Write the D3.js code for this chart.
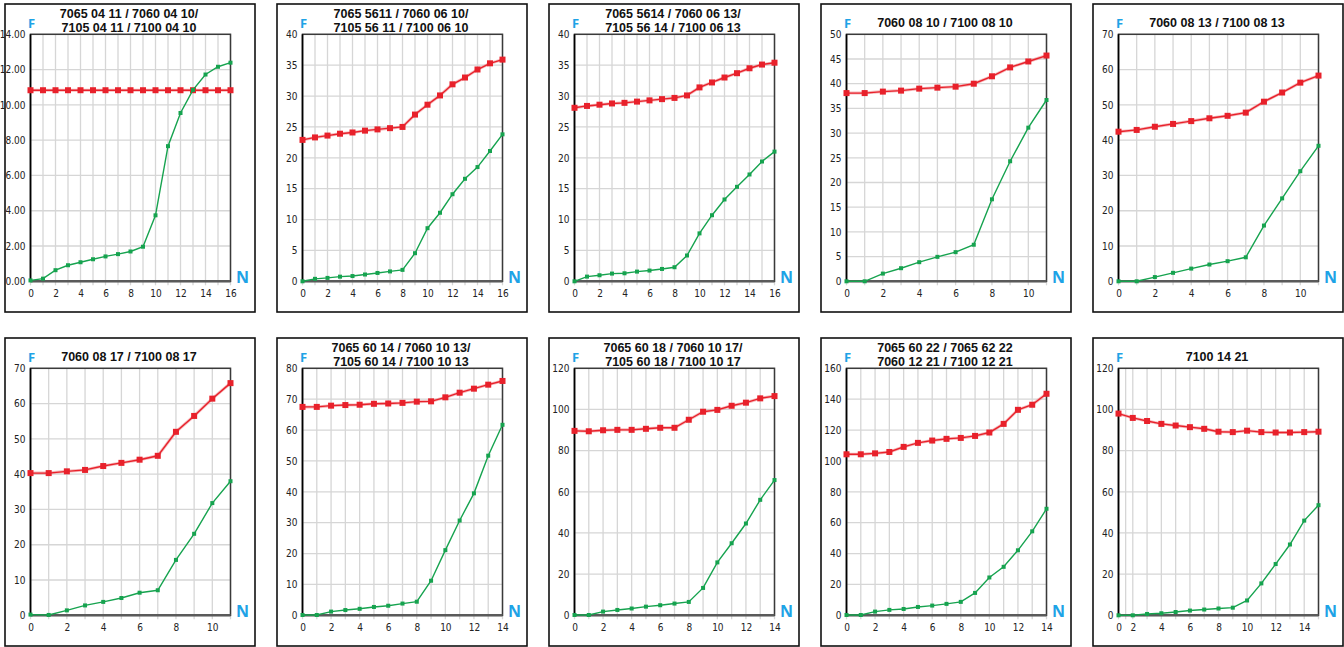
<!DOCTYPE html>
<html><head><meta charset="utf-8">
<script src="https://cdn.jsdelivr.net/npm/d3@7"></script>
<style>
body{margin:0;background:#fff}
svg{display:block}
.tick text{font-family:"Liberation Sans Narrow","DejaVu Sans Condensed","Roboto",sans-serif;font-size:10px;fill:#222}
</style></head><body>
<svg id="c" width="1344" height="647"></svg>
<script>
// ---------- data ----------
const titles = [
  ["7065 04 11 / 7060 04 10/", "7105 04 11 / 7100 04 10"],
  ["7065 5611 / 7060 06 10/", "7105 56 11 / 7100 06 10"],
  ["7065 5614 / 7060 06 13/", "7105 56 14 / 7100 06 13"],
  ["7060 08 10 / 7100 08 10"],
  ["7060 08 13 / 7100 08 13"],
  ["7060 08 17 / 7100 08 17"],
  ["7065 60 14 / 7060 10 13/", "7105 60 14 / 7100 10 13"],
  ["7065 60 18 / 7060 10 17/", "7105 60 18 / 7100 10 17"],
  ["7065 60 22 / 7065 62 22", "7060 12 21 / 7100 12 21"],
  ["7100 14 21"]
];
const nValues = [
  [0,1,2,3,4,5,6,7,8,9,10,11,12,13,14,15,16],
  [0,1,2,3,4,5,6,7,8,9,10,11,12,13,14,15,16],
  [0,1,2,3,4,5,6,7,8,9,10,11,12,13,14,15,16],
  [0,1,2,3,4,5,6,7,8,9,10,11],
  [0,1,2,3,4,5,6,7,8,9,10,11],
  [0,1,2,3,4,5,6,7,8,9,10,11],
  [0,1,2,3,4,5,6,7,8,9,10,11,12,13,14],
  [0,1,2,3,4,5,6,7,8,9,10,11,12,13,14],
  [0,1,2,3,4,5,6,7,8,9,10,11,12,13,14],
  [0,2,3,4,5,6,7,8,9,10,11,12,13,14,15]
];
const redSeries = [
  [10.83,10.83,10.83,10.83,10.83,10.83,10.83,10.83,10.83,10.83,10.83,10.83,10.83,10.83,10.83,10.83,10.83],
  [22.9,23.3,23.6,23.9,24.1,24.4,24.6,24.8,25.0,27.0,28.6,30.1,31.9,33.0,34.3,35.3,35.9],
  [28.1,28.4,28.6,28.8,28.9,29.1,29.3,29.5,29.7,30.1,31.4,32.2,33.0,33.7,34.5,35.1,35.4],
  [38.1,38.1,38.4,38.6,39.0,39.2,39.4,40.0,41.5,43.3,44.5,45.7],
  [42.4,42.9,43.8,44.6,45.4,46.2,46.9,47.8,50.9,53.5,56.3,58.3],
  [40.3,40.3,40.8,41.2,42.3,43.2,44.1,45.2,52.0,56.5,61.4,65.8],
  [67.5,67.5,67.9,68.1,68.2,68.5,68.6,68.8,69.2,69.3,70.6,72.1,73.4,74.7,75.9],
  [89.6,89.4,89.9,90.1,90.1,90.6,91.1,91.1,95.0,98.9,99.8,101.8,103.3,105.4,106.5],
  [104.3,104.3,104.9,105.8,109.1,111.7,113.2,114.3,114.9,116.2,118.4,124.0,133.1,136.4,143.5],
  [98.0,95.9,94.4,93.0,92.2,91.4,90.6,89.2,89.0,89.7,89.0,88.8,88.8,89.0,89.2]
];
const greenSeries = [
  [0.05,0.15,0.63,0.91,1.08,1.25,1.41,1.54,1.69,1.96,3.74,7.66,9.54,10.85,11.72,12.16,12.39],
  [0.0,0.4,0.55,0.75,0.85,1.1,1.35,1.6,1.85,4.55,8.6,11.1,14.1,16.6,18.5,21.1,23.8],
  [0.0,0.76,0.98,1.25,1.3,1.57,1.74,2.0,2.28,4.18,7.76,10.7,13.25,15.3,17.3,19.4,21.0],
  [0.0,0.0,1.56,2.65,3.87,4.95,5.9,7.4,16.6,24.3,31.1,36.7],
  [0.0,0.0,1.2,2.4,3.6,4.75,5.7,6.8,15.8,23.5,31.2,38.4],
  [0.2,0.1,1.4,2.8,3.8,4.9,6.4,7.1,15.7,23.1,31.8,38.0],
  [0.1,0.1,1.2,1.7,2.1,2.7,3.1,3.8,4.4,11.2,21.1,30.7,39.5,51.7,61.7],
  [0.15,0.15,1.8,2.6,3.3,4.2,4.9,5.7,6.5,13.3,25.7,35.0,44.6,56.1,65.7],
  [0.2,0.2,2.4,3.5,4.1,5.4,6.3,7.4,8.7,14.5,24.5,31.4,42.1,54.4,69.0],
  [0.0,0.0,0.65,1.0,1.6,2.3,2.8,3.3,3.7,7.2,15.5,24.9,34.4,46.0,53.5]
];
const yMax  = [14,40,40,50,70,70,80,120,160,120];
const yStep = [2,5,5,5,10,10,10,20,20,20];
const yDecimals = [2,0,0,0,0,0,0,0,0,0];
const axisLabelY = "F";
const axisLabelX = "N";

// ---------- layout ----------
const frameX = [5,277,549,821,1093];
const frameY = [4,338];
const frameW = 250, frameH = 308;
const plotOX = 25.5, plotOY = 30.3, plotW = 200, plotH = 247;
const RED = "#e8212b", GREEN = "#16a34f", BLUE = "#1ea3e6";

const svg = d3.select("#c");

titles.forEach((title, i) => {
  const fx = frameX[i % 5], fy = frameY[Math.floor(i / 5)];
  const g = svg.append("g").attr("transform", `translate(${fx},${fy})`);
  g.append("rect").attr("x",0).attr("y",0).attr("width",frameW).attr("height",frameH)
    .attr("fill","#fff").attr("stroke","#111").attr("stroke-width",1.6);

  // title
  const baselines = title.length === 2 ? [13.8, 28.2] : [22.5];
  title.forEach((line, k) => g.append("text").attr("text-anchor","middle")
    .attr("font-family","'Liberation Sans',Arial,sans-serif").attr("font-weight","700")
    .attr("font-size","12.5px").attr("fill","#111")
    .attr("x", frameW/2 - 1).attr("y", baselines[k]).text(line));

  const p = g.append("g").attr("transform", `translate(${plotOX},${plotOY})`);
  const ns = nValues[i];
  const nMax = ns[ns.length-1];
  const xDom = ns[0] === 0 && ns[1] === 2 ? [0, 2, nMax] : [0, nMax];
  const xRange = xDom.length === 3 ? [0, plotW/(ns.length-1), plotW] : [0, plotW];
  const x = d3.scaleLinear().domain(xDom).range(xRange);
  const y = d3.scaleLinear().domain([0, yMax[i]]).range([plotH, 0]);
  const yTicks = d3.range(0, yMax[i] + yStep[i]/2, yStep[i]);
  const xTicks = d3.range(0, nMax + 1);

  // grid
  p.append("g").selectAll("line").data(yTicks).join("line")
    .attr("x1",0).attr("x2",plotW).attr("y1",d=>y(d)).attr("y2",d=>y(d))
    .attr("stroke","#d6d6d6").attr("stroke-width",1.3);
  p.append("g").selectAll("line").data(xTicks).join("line")
    .attr("x1",d=>x(d)).attr("x2",d=>x(d)).attr("y1",0).attr("y2",plotH+4)
    .attr("stroke","#d6d6d6").attr("stroke-width",1.3);

  // axes labels
  p.append("g").attr("transform",`translate(0,${plotH})`)
    .call(d3.axisBottom(x).tickValues(xTicks).tickSize(0).tickPadding(9)
      .tickFormat(d => d % 2 === 0 ? d : ""))
    .call(a => a.select(".domain").remove());
  p.append("g")
    .call(d3.axisLeft(y).tickValues(yTicks).tickSize(0).tickPadding(5)
      .tickFormat(d => d3.format(`.${yDecimals[i]}f`)(d)))
    .call(a => a.select(".domain").remove());

  // plot frame
  p.append("rect").attr("width",plotW).attr("height",plotH).attr("fill","none")
    .attr("stroke","#3a3a3a").attr("stroke-width",1.5);
  p.append("line").attr("x1",0).attr("x2",0).attr("y1",0).attr("y2",plotH)
    .attr("stroke","#000").attr("stroke-width",1.6);
  p.append("line").attr("x1",0).attr("x2",plotW).attr("y1",plotH).attr("y2",plotH)
    .attr("stroke","#5a5a5a").attr("stroke-width",2.4);

  // series
  const line = d3.line().x((d,j)=>x(ns[j])).y(d=>y(d));
  p.append("path").datum(redSeries[i]).attr("d",line).attr("fill","none")
    .attr("stroke","#f08a8e").attr("stroke-width",3).attr("opacity",0.6);
  p.append("path").datum(redSeries[i]).attr("d",line).attr("fill","none")
    .attr("stroke",RED).attr("stroke-width",1.4);
  p.append("g").selectAll("rect").data(redSeries[i]).join("rect")
    .attr("x",(d,j)=>x(ns[j])-3).attr("y",d=>y(d)-3).attr("width",6).attr("height",6)
    .attr("fill",RED);
  p.append("path").datum(greenSeries[i]).attr("d",line).attr("fill","none")
    .attr("stroke",GREEN).attr("stroke-width",1.4);
  p.append("g").selectAll("rect").data(greenSeries[i]).join("rect")
    .attr("x",(d,j)=>x(ns[j])-2).attr("y",d=>y(d)-2).attr("width",4).attr("height",4)
    .attr("fill",GREEN);

  // F and N labels
  g.append("text").attr("x",plotOX+1).attr("y",24).attr("text-anchor","middle")
    .attr("font-family","'Open Sans',sans-serif").attr("font-weight","700")
    .attr("font-size","13px").attr("fill",BLUE).text(axisLabelY);
  g.append("text").attr("x",plotOX+plotW+12).attr("y",plotOY+plotH+2).attr("text-anchor","middle")
    .attr("font-family","'Open Sans',sans-serif").attr("font-weight","700")
    .attr("font-size","16px").attr("fill",BLUE).text(axisLabelX);
});
</script></body></html>
